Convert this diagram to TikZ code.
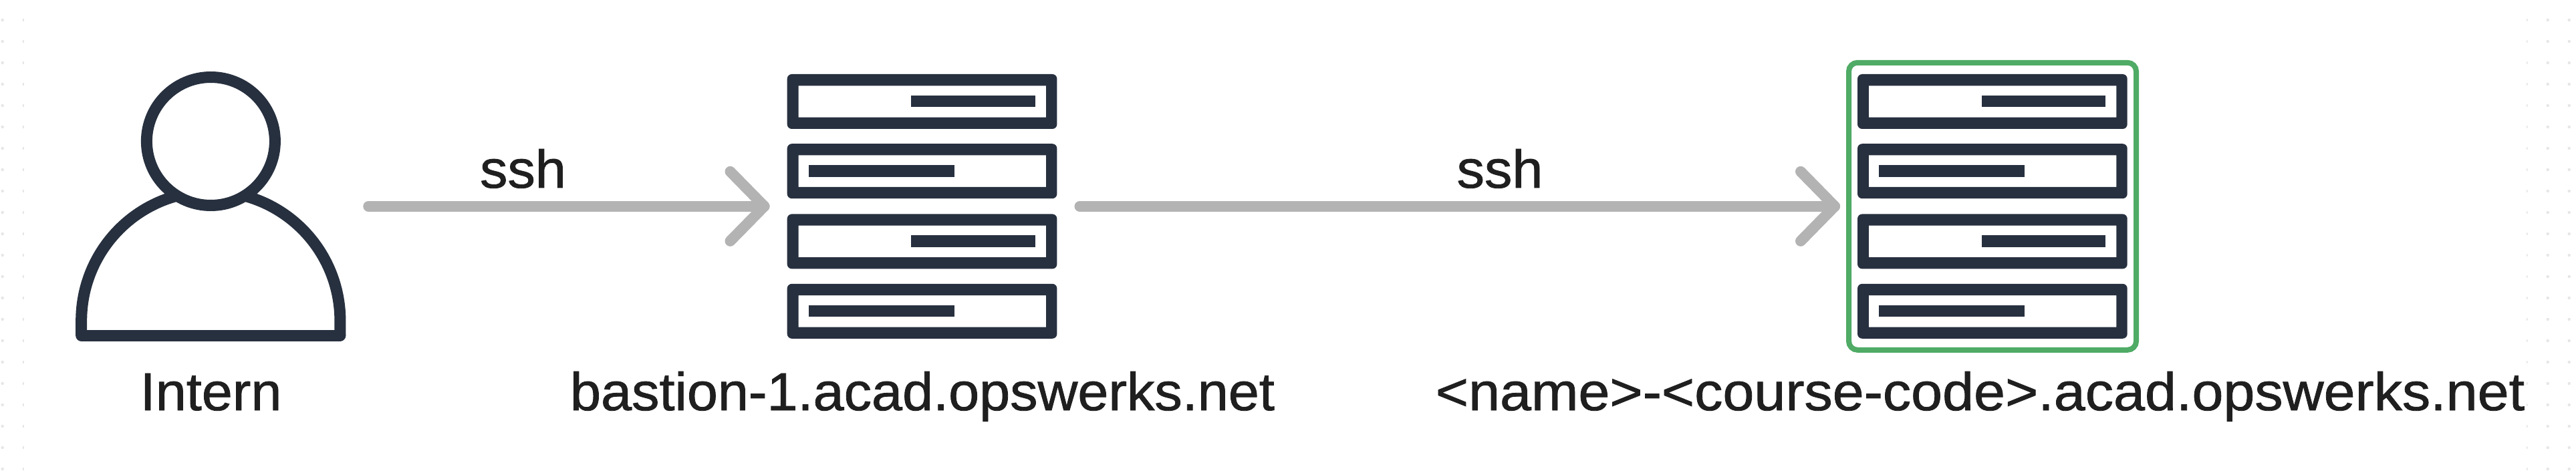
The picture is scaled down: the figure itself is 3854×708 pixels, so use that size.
\documentclass[tikz,border=0pt]{standalone}
\usepackage{fontspec}
\setmainfont{Liberation Sans}
\newfontfamily\labelfont[FakeStretch=1.035,FakeBold=1]{Liberation Sans}
\newfontfamily\widelabelfont[FakeStretch=1.056,FakeBold=1]{Liberation Sans}
\usetikzlibrary{calc}
\definecolor{icondark}{HTML}{27303F}
\definecolor{arrowgrey}{HTML}{B3B3B3}
\definecolor{framegreen}{HTML}{4FAB65}
\definecolor{labelink}{HTML}{1F1F1F}
\definecolor{griddot}{HTML}{E6E6E6}
\newcommand{\rackrow}[3]{%
  % #1 top of row, #2 bar start, #3 bar end
  \fill[icondark,even odd rule,rounded corners=7pt] (0,#1) rectangle (403.7,#1+82)
    [sharp corners] (16.8,#1+17.3) rectangle (387.3,#1+64.7);
  \fill[icondark] (#2,#1+32) rectangle (#3,#1+49.5);
}
\newcommand{\serverrack}[1]{%
  \begin{scope}[shift={(#1,0)}]
    \rackrow{111}{185.6}{371.3}
    \rackrow{215.2}{32.1}{250.3}
    \rackrow{320.4}{185.6}{371.3}
    \rackrow{424.8}{32.1}{250.3}
  \end{scope}
}
\tikzset{
  iconbox/.style={minimum width=404pt,minimum height=396pt,inner sep=0pt,outer sep=26pt},
  arrowline/.style={draw=arrowgrey,line width=16pt,line cap=round,line join=round},
  label/.style={anchor=base,inner sep=0pt,outer sep=0pt,text=labelink,font=\labelfont\fontsize{80}{96}\selectfont},
  greenframe/.style={draw=framegreen,line width=8pt,rounded corners=13pt,minimum width=430pt,minimum height=430pt,inner sep=0pt},
  persondraw/.style={draw=icondark,line width=17pt,line join=round}
}
\begin{document}
\begin{tikzpicture}[x=1pt,y=-1pt]
\useasboundingbox (0,0) rectangle (3854,708);
\fill[white] (0,0) rectangle (3854,708);
% faint background grid
\foreach \gx in {3.7,35.7,3779.7,3811.7,3843.7}
  \foreach \gy in {30,62,...,702}
    \fill[griddot] (\gx,\gy) circle[radius=2.2];
\fill[white] (36.2,0) rectangle (3779.7,708);
% anchors of the icons
\node[iconbox] (person) at (315.3,308.8) {};
\node[iconbox] (bastion) at (1379.5,308.8) {};
\node[greenframe] (target) at (2981,308.8) {};
\coordinate (tipa) at ([xshift=-8pt]bastion.west);
\coordinate (tipb) at ([xshift=-17pt]target.west);
% person
\draw[persondraw] (121.7,502) -- (121.7,480) arc[start angle=180,end angle=254,radius=193.7];
\draw[persondraw] (508.9,502) -- (508.9,480) arc[start angle=360,end angle=286,radius=193.7];
\draw[persondraw,line cap=round] (121.7,502) -- (508.9,502);
\draw[persondraw,fill=none] (315.4,211.5) circle[radius=96];
% racks
\serverrack{1177.7}
\serverrack{2779}
% connectors
\draw[arrowline,shorten <=8pt] (person.east) -- (tipa);
\draw[arrowline] ([shift={(-51,-52)}]tipa) -- (tipa) -- ([shift={(-51,52)}]tipa);
\draw[arrowline,shorten <=8pt] (bastion.east) -- (tipb);
\draw[arrowline] ([shift={(-51,-52)}]tipb) -- (tipb) -- ([shift={(-51,52)}]tipb);
% labels
\node[label] (internlabel) at (315.6,614) {Intern};
\node[label] (bastionlabel) at (1380,614) {bastion-1.acad.opswerks.net};
\node[label,font=\widelabelfont\fontsize{80}{96}\selectfont] (targetlabel) at (2962.5,614) {<name>-<course-code>.acad.opswerks.net};
\node[label] (ssha) at (782.5,281) {ssh};
\node[label] (sshb) at (2244,281) {ssh};
\end{tikzpicture}
\end{document}
